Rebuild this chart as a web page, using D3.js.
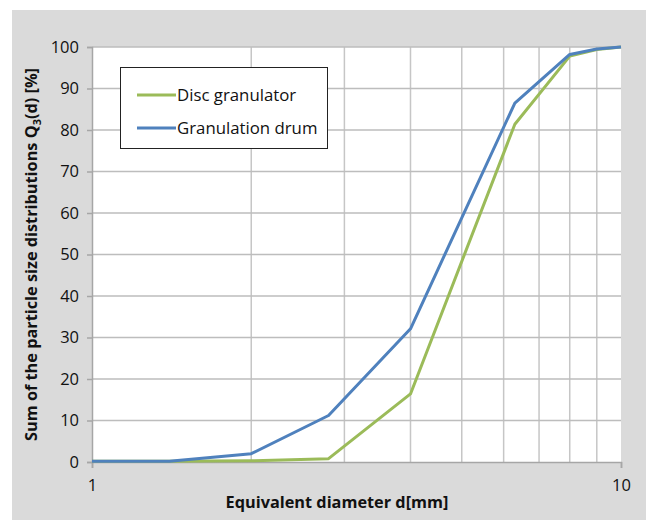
<!DOCTYPE html>
<html>
<head>
<meta charset="utf-8">
<script src="https://cdn.jsdelivr.net/npm/d3@7"></script>
<style>
  body { margin: 0; background: #fff; }
  text { font-family: "Open Sans", sans-serif; fill: #111; }
</style>
</head>
<body>
<svg id="chart" width="646" height="520"></svg>
<script>
// data
const diameters = [1, 1.4, 2, 2.8, 4, 6.3, 8, 9, 10];
const discGranulator = [0.2, 0.2, 0.3, 0.8, 16.4, 81.4, 97.8, 99.4, 100];
const granulationDrum = [0.2, 0.2, 2.0, 11.2, 32.1, 86.5, 98.2, 99.5, 100];
const seriesNames = ["Disc granulator", "Granulation drum"];
const seriesColors = ["#9bbb59", "#4f81bd"];
const yTicks = [0, 10, 20, 30, 40, 50, 60, 70, 80, 90, 100];
const xGrid = [2, 3, 4, 5, 6, 7, 8, 9];
const xLabels = [1, 10];

var svg = d3.select("#chart");
var width = 646, height = 520;
var margin = {left: 92, right: 25, top: 47, bottom: 58};

// gray panel
svg.append("rect")
   .attr("x", 12).attr("y", 10)
   .attr("width", width - 12).attr("height", height - 10)
   .attr("fill", "#dadada");

var x = d3.scaleLog().domain([1, 10]).range([margin.left, width - margin.right]);
var y = d3.scaleLinear().domain([0, 100]).range([height - margin.bottom, margin.top]);

svg.append("rect")
   .attr("x", x(1)).attr("y", y(100))
   .attr("width", x(10) - x(1)).attr("height", y(0) - y(100))
   .attr("fill", "#fff");

// grid
svg.selectAll(".vgrid")
   .data(xGrid).enter()
   .append("line")
   .attr("class", "vgrid")
   .attr("x1", d => x(d)).attr("x2", d => x(d))
   .attr("y1", y(0)).attr("y2", y(100))
   .attr("stroke", "#c6c6c6").attr("stroke-width", 1.5);

svg.selectAll(".hgrid")
   .data(yTicks.filter(d => d > 0)).enter()
   .append("line")
   .attr("class", "hgrid")
   .attr("x1", x(1)).attr("x2", x(10))
   .attr("y1", d => y(d)).attr("y2", d => y(d))
   .attr("stroke", "#bdbdbd").attr("stroke-width", 1.5);

// axes
var yAxis = svg.append("g")
   .attr("transform", "translate(" + x(1) + ",0)")
   .call(d3.axisLeft(y).tickValues(yTicks).tickSize(5).tickPadding(8));
var xAxis = svg.append("g")
   .attr("transform", "translate(0," + y(0) + ")")
   .call(d3.axisBottom(x).tickValues(xLabels).tickFormat(d3.format("d")).tickSize(6).tickPadding(8));

[yAxis, xAxis].forEach(function(a) {
  a.select(".domain").attr("stroke", "#a6a6a6").attr("stroke-width", 1.5);
  a.selectAll(".tick line").attr("stroke", "#a6a6a6").attr("stroke-width", 1.5);
  a.selectAll(".tick text").style("font-family", "'Open Sans', sans-serif")
   .style("font-size", "16.5px").attr("fill", "#111");
});
xAxis.selectAll(".tick text").attr("dy", "0.9em");

// lines
var line = d3.line()
  .x((d, i) => x(diameters[i]))
  .y(d => y(d));

svg.selectAll(".series")
   .data([discGranulator, granulationDrum])
   .enter()
   .append("path")
   .attr("class", "series")
   .attr("d", d => line(d))
   .attr("fill", "none")
   .attr("stroke", (d, i) => seriesColors[i])
   .attr("stroke-width", 3)
   .attr("stroke-linejoin", "round");

// legend
svg.append("rect")
   .attr("x", 120.5).attr("y", 67.5)
   .attr("width", 207).attr("height", 81)
   .attr("fill", "#fff").attr("stroke", "#222").attr("stroke-width", 1);

var legend = svg.selectAll(".legend")
   .data(seriesNames).enter()
   .append("g")
   .attr("class", "legend")
   .attr("transform", (d, i) => "translate(137," + (95 + i * 33) + ")");
legend.append("line")
   .attr("x1", 0).attr("x2", 39)
   .attr("stroke", (d, i) => seriesColors[i]).attr("stroke-width", 3);
legend.append("text")
   .attr("x", 40).attr("dy", "0.35em")
   .style("font-size", "16.8px")
   .text(d => d);

// axis titles
svg.append("text")
   .attr("x", 337).attr("y", 508)
   .attr("text-anchor", "middle")
   .style("font-size", "16.3px").style("font-weight", "bold")
   .text("Equivalent diameter d[mm]");

var yt = svg.append("text")
   .attr("transform", "translate(37," + ((y(0) + y(100)) / 2) + ") rotate(-90)")
   .attr("text-anchor", "middle")
   .style("font-size", "16.3px").style("font-weight", "bold");
yt.append("tspan").text("Sum of the particle size distributions Q");
yt.append("tspan").attr("dy", 4).style("font-size", "11px").text("3");
yt.append("tspan").attr("dy", -4).text("(d) [%]");
</script>
</body>
</html>
